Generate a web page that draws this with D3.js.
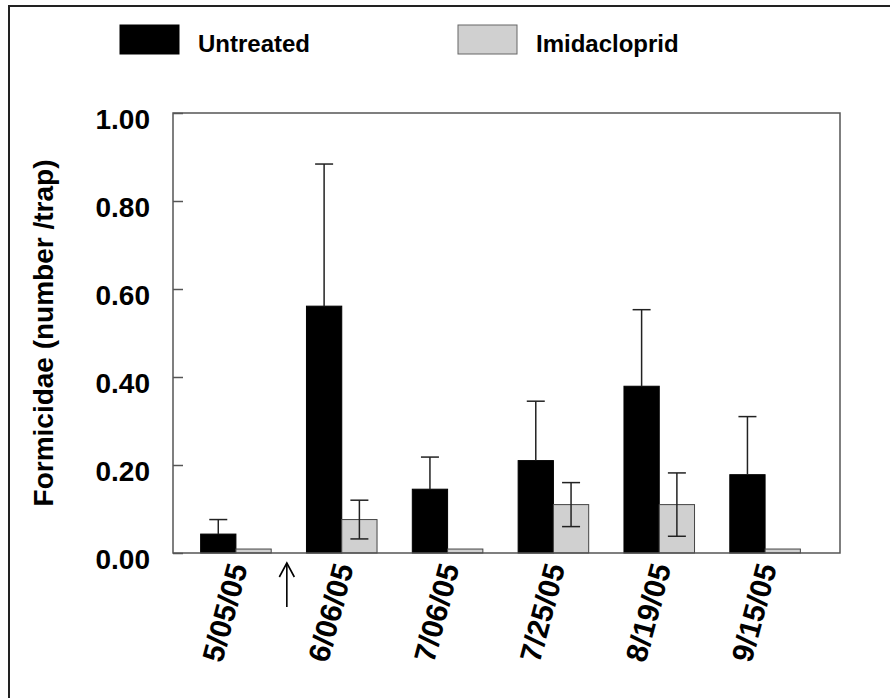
<!DOCTYPE html>
<html>
<head>
<meta charset="utf-8">
<script src="https://cdn.jsdelivr.net/npm/d3@7"></script>
<style>
  body { margin: 0; background: #fff; }
  text { font-family: "Liberation Sans", Arial, sans-serif; font-weight: bold; }
</style>
</head>
<body>
<div id="chart"></div>
<script>
// sampling dates
var dates = ["5/05/05", "6/06/05", "7/06/05", "7/25/05", "8/19/05", "9/15/05"];
// series names
var seriesNames = ["Untreated", "Imidacloprid"];
// means (number / trap)
var untreated = [0.043, 0.561, 0.145, 0.210, 0.379, 0.178];
var imidacloprid = [0.009, 0.076, 0.009, 0.110, 0.110, 0.009];
// standard errors
var untreatedSE = [0.033, 0.323, 0.073, 0.135, 0.174, 0.132];
var imidaclopridSE = [0, 0.044, 0, 0.050, 0.072, 0];
// y ticks
var yTicks = [0, 0.2, 0.4, 0.6, 0.8, 1.0];

var colors = {"Untreated": "#000000", "Imidacloprid": "#d0d0d0"};
var strokes = {"Untreated": "#000000", "Imidacloprid": "#444444"};

// the plot box
var margin = {top: 113, right: 50, bottom: 145, left: 173};
var width = 890 - margin.left - margin.right;
var height = 698 - margin.top - margin.bottom;

var svg = d3.select("#chart").append("svg")
    .attr("width", 890)
    .attr("height", 698);

// outer frame (only top and left edges show in the picture)
svg.append("path")
    .attr("d", "M9,698 V6 H890")
    .attr("fill", "none")
    .attr("stroke", "#222")
    .attr("stroke-width", 2);

var g = svg.append("g")
    .attr("transform", "translate(" + margin.left + "," + margin.top + ")");

// build rows from the arrays
var rows = dates.map(function(d, i) {
  return {date: d, values: [
    {key: "Untreated", value: untreated[i], se: untreatedSE[i], lower: false},
    {key: "Imidacloprid", value: imidacloprid[i], se: imidaclopridSE[i], lower: true}
  ]};
});

var xScale = d3.scaleBand()
    .domain(dates)
    .range([10, 645])
    .paddingInner(1 / 3)
    .paddingOuter(1 / 6);

var xInner = d3.scaleBand()
    .domain(seriesNames)
    .range([0, xScale.bandwidth()]);

var yScale = d3.scaleLinear()
    .domain([0, 1])
    .range([height, 0]);

// bars
var groups = g.selectAll(".group")
    .data(rows)
    .enter().append("g")
    .attr("class", "group")
    .attr("transform", function(d) { return "translate(" + xScale(d.date) + ",0)"; });

groups.selectAll("rect")
    .data(function(d) { return d.values; })
    .enter().append("rect")
    .attr("x", function(d) { return xInner(d.key); })
    .attr("width", xInner.bandwidth())
    .attr("y", function(d) { return yScale(d.value); })
    .attr("height", function(d) { return height - yScale(d.value); })
    .attr("fill", function(d) { return colors[d.key]; })
    .attr("stroke", function(d) { return strokes[d.key]; })
    .attr("stroke-width", 1);

// error bars
var errs = groups.selectAll(".err")
    .data(function(d) { return d.values.filter(function(v) { return v.se > 0; }); })
    .enter().append("g")
    .attr("class", "err")
    .attr("stroke", "#222")
    .attr("stroke-width", 1.5);

var cap = 9;
errs.append("line")
    .attr("x1", function(d) { return xInner(d.key) + xInner.bandwidth() / 2; })
    .attr("x2", function(d) { return xInner(d.key) + xInner.bandwidth() / 2; })
    .attr("y1", function(d) { return yScale(d.lower ? d.value - d.se : d.value); })
    .attr("y2", function(d) { return yScale(d.value + d.se); });
errs.append("line")
    .attr("x1", function(d) { return xInner(d.key) + xInner.bandwidth() / 2 - cap; })
    .attr("x2", function(d) { return xInner(d.key) + xInner.bandwidth() / 2 + cap; })
    .attr("y1", function(d) { return yScale(d.value + d.se); })
    .attr("y2", function(d) { return yScale(d.value + d.se); });
errs.filter(function(d) { return d.lower; }).append("line")
    .attr("x1", function(d) { return xInner(d.key) + xInner.bandwidth() / 2 - cap; })
    .attr("x2", function(d) { return xInner(d.key) + xInner.bandwidth() / 2 + cap; })
    .attr("y1", function(d) { return yScale(d.value - d.se); })
    .attr("y2", function(d) { return yScale(d.value - d.se); });

// plot frame
g.append("rect")
    .attr("x", 0).attr("y", 0)
    .attr("width", width).attr("height", height)
    .attr("fill", "none")
    .attr("stroke", "#555")
    .attr("stroke-width", 1.5);

// y axis with inward ticks
var yAxis = d3.axisLeft(yScale)
    .tickValues(yTicks)
    .tickFormat(d3.format(".2f"))
    .tickSizeInner(-10)
    .tickSizeOuter(0)
    .tickPadding(23);

var ya = g.append("g").attr("class", "yaxis").call(yAxis);
ya.select(".domain").remove();
ya.selectAll("line").attr("stroke", "#555").attr("stroke-width", 1.5);
ya.selectAll("text")
    .attr("font-size", 28)
    .attr("fill", "#000")
    .attr("dy", "0.55em");

// x labels, rotated
g.selectAll(".xlabel")
    .data(dates)
    .enter().append("text")
    .attr("class", "xlabel")
    .attr("transform", function(d) {
      return "translate(" + (xScale(d) + xScale.bandwidth() / 2 + 12) + "," + (height + 14) + ") rotate(-75)";
    })
    .attr("text-anchor", "end")
    .attr("font-size", 30)
    .attr("fill", "#000")
    .text(function(d) { return d; });

// arrow marking treatment date, between first two dates
var ax = (xScale(dates[0]) + xScale.bandwidth() + xScale(dates[1])) / 2 - 2;
var arrow = g.append("g")
    .attr("fill", "none")
    .attr("stroke", "#000")
    .attr("stroke-width", 1.6);
arrow.append("line")
    .attr("x1", ax).attr("x2", ax)
    .attr("y1", height + 10).attr("y2", height + 54);
arrow.append("path")
    .attr("d", "M" + (ax - 7.5) + "," + (height + 24) + " L" + ax + "," + (height + 10) + " L" + (ax + 7.5) + "," + (height + 24));

// y axis title
svg.append("text")
    .attr("transform", "translate(53," + (margin.top + height / 2) + ") rotate(-90)")
    .attr("text-anchor", "middle")
    .attr("font-size", 28)
    .attr("fill", "#000")
    .text("Formicidae (number /trap)");

// legend
var legendX = [120, 458];
var legend = svg.selectAll(".legend")
    .data(seriesNames)
    .enter().append("g")
    .attr("class", "legend")
    .attr("transform", function(d, i) { return "translate(" + legendX[i] + ",25)"; });
legend.append("rect")
    .attr("width", 59).attr("height", 29)
    .attr("fill", function(d) { return colors[d]; })
    .attr("stroke", function(d) { return d === "Untreated" ? "#000" : "#666"; })
    .attr("stroke-width", 1);
legend.append("text")
    .attr("x", 78)
    .attr("y", 27)
    .attr("font-size", 24)
    .attr("fill", "#000")
    .text(function(d) { return d; });
</script>
</body>
</html>
